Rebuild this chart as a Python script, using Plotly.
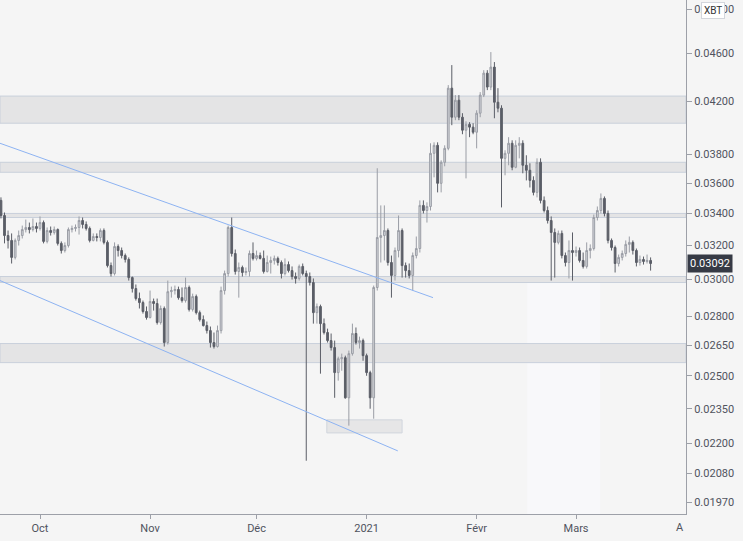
import math
import pandas as pd
import plotly.graph_objects as go

# ---------------- data ----------------
start_date = "2020-09-20"   # first daily candle

opens = [0.03484,0.03386,0.03260,0.03230,0.03128,0.03230,0.03260,0.03297,0.03310,0.03297,
         0.03316,0.03304,0.03341,0.03224,0.03291,0.03279,0.03297,0.03212,0.03169,0.03199,
         0.03297,0.03304,0.03310,0.03354,0.03329,0.03304,0.03230,0.03254,0.03248,0.03291,
         0.03218,0.03080,0.03034,0.03193,0.03169,0.03139,0.03116,0.03011,0.02949,0.02894,
         0.02872,0.02824,0.02792,0.02878,0.02867,0.02766,0.02840,0.02663,0.02932,0.02938,
         0.02944,0.02899,0.02883,0.02955,0.02835,0.02905,0.02818,0.02781,0.02750,0.02724,
         0.02663,0.02643,0.02724,0.02938,0.03034,0.03310,0.03151,0.03046,0.03069,0.03040,
         0.03046,0.03151,0.03122,0.03139,0.03122,0.03046,0.03098,0.03110,0.03122,0.03098,
         0.03034,0.03086,0.03051,0.03017,0.03006,0.03075,0.03034,0.03017,0.02983,0.02818,
         0.02851,0.02760,0.02714,0.02673,0.02638,0.02516,0.02583,0.02588,0.02399,0.02608,
         0.02709,0.02663,0.02673,0.02598,0.02516,0.02399,0.02955,0.03248,0.03260,0.03291,
         0.03098,0.03023,0.03169,0.03291,0.03080,0.03051,0.03023,0.03139,0.03181,0.03451,
         0.03418,0.03444,0.03808,0.03866,0.03598,0.03744,0.03844,0.04307,0.04077,0.04210,
         0.04077,0.03978,0.04023,0.04001,0.03963,0.04108,0.04251,0.04431,0.04316,0.04482,
         0.04194,0.04147,0.03772,0.03808,0.03881,0.03709,0.03866,0.03881,0.03723,0.03688,
         0.03618,0.03537,0.03744,0.03484,0.03418,0.03354,0.03279,0.03218,0.03273,0.03139,
         0.03098,0.03169,0.03157,0.03169,0.03110,0.03075,0.03169,0.03181,0.03373,0.03418,
         0.03497,0.03399,0.03230,0.03187,0.03092,0.03128,0.03151,0.03206,0.03218,0.03169,
         0.03098,0.03116,0.03104,0.03110]

highs = [0.03504,0.03405,0.03291,0.03273,0.03242,0.03291,0.03322,0.03360,0.03341,0.03367,
         0.03341,0.03380,0.03354,0.03310,0.03316,0.03316,0.03304,0.03224,0.03218,0.03310,
         0.03322,0.03329,0.03380,0.03373,0.03348,0.03316,0.03273,0.03273,0.03304,0.03304,
         0.03230,0.03098,0.03218,0.03206,0.03187,0.03151,0.03128,0.03017,0.02972,0.02927,
         0.02883,0.02851,0.02938,0.02894,0.02894,0.02856,0.02851,0.02994,0.02960,0.02966,
         0.02960,0.02955,0.03011,0.02966,0.02921,0.02916,0.02829,0.02803,0.02771,0.02745,
         0.02714,0.02750,0.02960,0.03051,0.03322,0.03373,0.03175,0.03098,0.03080,0.03069,
         0.03169,0.03218,0.03169,0.03157,0.03169,0.03139,0.03133,0.03139,0.03133,0.03110,
         0.03122,0.03104,0.03075,0.03040,0.03086,0.03092,0.03051,0.03040,0.03006,0.02867,
         0.02861,0.02787,0.02734,0.02709,0.02673,0.02593,0.02608,0.02598,0.02623,0.02760,
         0.02740,0.02693,0.02683,0.02608,0.02525,0.02966,0.03702,0.03451,0.03451,0.03304,
         0.03139,0.03187,0.03386,0.03304,0.03098,0.03092,0.03157,0.03254,0.03484,0.03484,
         0.03471,0.03881,0.03888,0.03888,0.03758,0.03866,0.04332,0.04499,0.04251,0.04251,
         0.04108,0.04046,0.04039,0.04031,0.04131,0.04275,0.04456,0.04456,0.04611,0.04525,
         0.04307,0.04170,0.03830,0.03926,0.03903,0.03903,0.03926,0.03903,0.03794,0.03737,
         0.03646,0.03772,0.03772,0.03510,0.03444,0.03380,0.03304,0.03291,0.03291,0.03157,
         0.03230,0.03279,0.03193,0.03187,0.03157,0.03218,0.03206,0.03392,0.03444,0.03530,
         0.03510,0.03418,0.03242,0.03199,0.03145,0.03169,0.03230,0.03254,0.03230,0.03181,
         0.03139,0.03133,0.03145,0.03128]

lows = [0.03367,0.03212,0.03181,0.03092,0.03116,0.03199,0.03242,0.03279,0.03273,0.03285,
        0.03279,0.03291,0.03212,0.03212,0.03260,0.03266,0.03199,0.03151,0.03157,0.03187,
        0.03279,0.03285,0.03266,0.03304,0.03291,0.03218,0.03224,0.03224,0.03224,0.03206,
        0.03069,0.03017,0.03023,0.03133,0.03122,0.03098,0.02994,0.02927,0.02883,0.02840,
        0.02813,0.02781,0.02787,0.02829,0.02755,0.02755,0.02643,0.02653,0.02899,0.02916,
        0.02888,0.02872,0.02872,0.02824,0.02824,0.02808,0.02771,0.02745,0.02709,0.02638,
        0.02633,0.02638,0.02709,0.02916,0.03017,0.03133,0.03028,0.02899,0.03017,0.03023,
        0.03017,0.03110,0.03110,0.03116,0.03034,0.03040,0.03034,0.03086,0.03080,0.03006,
        0.03023,0.03040,0.03000,0.02977,0.02994,0.03023,0.02130,0.02966,0.02760,0.02760,
        0.02511,0.02704,0.02663,0.02623,0.02399,0.02478,0.02525,0.02395,0.02276,0.02598,
        0.02653,0.02633,0.02573,0.02501,0.02350,0.02306,0.02938,0.03098,0.03110,0.03080,
        0.02899,0.02994,0.03128,0.03011,0.03011,0.03006,0.02938,0.03122,0.03157,0.03399,
        0.03341,0.03418,0.03639,0.03537,0.03537,0.03716,0.03830,0.04016,0.04054,0.04054,
        0.03948,0.03632,0.03926,0.03948,0.03844,0.04077,0.04235,0.04291,0.04291,0.04069,
        0.04115,0.03438,0.03653,0.03723,0.03688,0.03702,0.03772,0.03667,0.03618,0.03570,
        0.03517,0.03504,0.03464,0.03405,0.03335,0.02994,0.03011,0.03206,0.03122,0.03075,
        0.03006,0.02994,0.03133,0.03098,0.03063,0.03063,0.03122,0.03169,0.03354,0.03399,
        0.03380,0.03212,0.03169,0.03040,0.03075,0.03110,0.03133,0.03157,0.03145,0.03075,
        0.03080,0.03086,0.03092,0.03051]

closes = [0.03386,0.03260,0.03230,0.03128,0.03230,0.03260,0.03297,0.03310,0.03297,0.03316,
          0.03304,0.03341,0.03224,0.03291,0.03279,0.03297,0.03212,0.03169,0.03199,0.03297,
          0.03304,0.03310,0.03354,0.03329,0.03304,0.03230,0.03254,0.03248,0.03291,0.03218,
          0.03080,0.03034,0.03193,0.03169,0.03139,0.03116,0.03011,0.02949,0.02894,0.02872,
          0.02824,0.02792,0.02878,0.02867,0.02766,0.02840,0.02663,0.02932,0.02938,0.02944,
          0.02899,0.02883,0.02955,0.02835,0.02905,0.02818,0.02781,0.02750,0.02724,0.02663,
          0.02643,0.02724,0.02938,0.03034,0.03310,0.03151,0.03046,0.03069,0.03040,0.03046,
          0.03151,0.03122,0.03139,0.03122,0.03046,0.03098,0.03110,0.03122,0.03098,0.03034,
          0.03086,0.03051,0.03017,0.03006,0.03075,0.03034,0.03017,0.02983,0.02818,0.02851,
          0.02760,0.02714,0.02673,0.02638,0.02516,0.02583,0.02588,0.02399,0.02608,0.02709,
          0.02663,0.02673,0.02598,0.02516,0.02399,0.02955,0.03248,0.03260,0.03291,0.03098,
          0.03023,0.03169,0.03291,0.03080,0.03051,0.03023,0.03139,0.03181,0.03451,0.03418,
          0.03444,0.03808,0.03866,0.03598,0.03744,0.03844,0.04307,0.04077,0.04210,0.04077,
          0.03978,0.04023,0.04001,0.03963,0.04108,0.04251,0.04431,0.04316,0.04482,0.04194,
          0.04147,0.03772,0.03808,0.03881,0.03709,0.03866,0.03881,0.03723,0.03688,0.03618,
          0.03537,0.03744,0.03484,0.03418,0.03354,0.03279,0.03218,0.03273,0.03139,0.03098,
          0.03169,0.03157,0.03169,0.03110,0.03075,0.03169,0.03181,0.03373,0.03418,0.03497,
          0.03399,0.03230,0.03187,0.03092,0.03128,0.03151,0.03206,0.03218,0.03169,0.03098,
          0.03116,0.03104,0.03110,0.03092]

# horizontal zones (price bounds)
zone_low  = [0.04031, 0.03674, 0.03373, 0.02983, 0.02564]
zone_high = [0.04243, 0.03744, 0.03399, 0.03017, 0.02658]

# trendlines: (date, price) endpoints
upper_line_x = ["2020-09-19 17:30", "2021-01-19 17:00"]
upper_line_y = [0.03881, 0.02899]
lower_line_x = ["2020-09-19 17:30", "2021-01-09 19:00"]
lower_line_y = [0.02994, 0.02170]

# small demand box and pale box
box_x = ["2020-12-20 19:00", "2021-01-11 00:00"]
box_y = [0.02245, 0.02301]
pale_x = ["2021-02-15 05:00", "2021-03-07 19:00"]
pale_y = [0.0185, 0.02983]

# axes
month_ticks = ["2020-10-01", "2020-11-01", "2020-12-01", "2021-01-01", "2021-02-01", "2021-03-01"]
month_labels = ["Oct", "Nov", "Déc", "2021", "Févr", "Mars"]
price_ticks = [0.0197, 0.0208, 0.0220, 0.0235, 0.0250, 0.0265, 0.0280, 0.0300,
               0.0320, 0.0340, 0.0360, 0.0380, 0.0420, 0.0460, 0.0500]
x_range = ["2020-09-19 17:30", "2021-03-31 23:20"]
y_range = [0.01926, 0.05088]

# ---------------- figure ----------------
dates = pd.date_range(start_date, periods=len(closes), freq="D")

BG = "#f5f5f5"
ZONE_FILL = "#e4e4e5"
ZONE_LINE = "#c9d0db"
AX = "#9da0a8"
TXT = "#50535e"

fig = go.Figure()

fig.add_trace(go.Candlestick(
    x=dates, open=opens, high=highs, low=lows, close=closes,
    increasing=dict(line=dict(color="#9a9da5", width=1), fillcolor="#d5d7dc"),
    decreasing=dict(line=dict(color="#5b5e67", width=1), fillcolor="#5b5e67"),
    whiskerwidth=0, hoverinfo="skip", showlegend=False,
))

for xs, ys in [(upper_line_x, upper_line_y), (lower_line_x, lower_line_y)]:
    fig.add_trace(go.Scatter(x=xs, y=ys, mode="lines",
                             line=dict(color="#8db3f2", width=1),
                             hoverinfo="skip", showlegend=False))

shapes = []
# pale box first so the zones are drawn over it (all shapes on the same axes layer)
shapes.append(dict(type="rect", xref="x", yref="y", x0=pale_x[0], x1=pale_x[1],
                   y0=pale_y[0], y1=pale_y[1], fillcolor="#f8f8fa",
                   line=dict(width=0), layer="below"))
for lo, hi in zip(zone_low, zone_high):
    shapes.append(dict(type="rect", xref="x", yref="y", x0=x_range[0], x1=x_range[1],
                       y0=lo, y1=hi,
                       fillcolor=ZONE_FILL, line=dict(color=ZONE_LINE, width=1), layer="below"))
shapes.append(dict(type="rect", xref="x", yref="y", x0=box_x[0], x1=box_x[1],
                   y0=box_y[0], y1=box_y[1], fillcolor="#e6e6e7",
                   line=dict(color="#d0d5dd", width=1), layer="below"))

annotations = [
    dict(xref="paper", x=1.0, xanchor="left", xshift=1, yref="y", y=math.log10(closes[-1]),
         yanchor="middle", text=f"{closes[-1]:.5f}", showarrow=False,
         font=dict(color="white", size=11, family="Roboto, sans-serif"),
         bgcolor="#363a45", borderpad=2),
    dict(xref="paper", x=1.0394, xanchor="center", yref="paper", y=0.979, yanchor="middle",
         text="XBT", showarrow=False, font=dict(color="#333", size=10, family="Roboto, sans-serif"),
         bgcolor="white", bordercolor="#d3d6dc", borderwidth=1, borderpad=2),
    dict(xref="paper", x=1.0, xanchor="right", yref="paper", y=-0.027, yanchor="middle",
         text="A", showarrow=False, font=dict(color=TXT, size=11, family="Roboto, sans-serif")),
]

fig.update_layout(
    width=743, height=541,
    margin=dict(l=0, r=57, t=0, b=27),
    paper_bgcolor=BG, plot_bgcolor=BG,
    showlegend=False,
    font=dict(family="Roboto, sans-serif", size=11, color=TXT),
    shapes=shapes, annotations=annotations,
    xaxis=dict(type="date", range=x_range, showgrid=False, zeroline=False,
               rangeslider=dict(visible=False),
               tickmode="array", tickvals=month_ticks, ticktext=month_labels,
               ticks="outside", ticklen=4, tickcolor=AX,
               showline=True, linecolor=AX, linewidth=1,
               tickfont=dict(size=11, color=TXT)),
    yaxis=dict(type="log", side="right",
               range=[math.log10(y_range[0]), math.log10(y_range[1])],
               showgrid=False, zeroline=False,
               tickmode="array", tickvals=price_ticks,
               ticktext=[f"{v:.5f}" for v in price_ticks],
               ticks="outside", ticklen=5, tickcolor=AX,
               showline=True, linecolor=AX, linewidth=1,
               tickfont=dict(size=11, color=TXT)),
)

fig.write_html("out.html")
